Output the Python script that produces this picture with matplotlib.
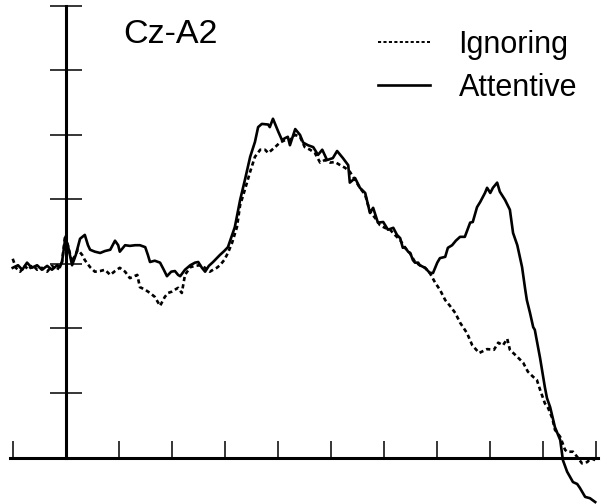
import numpy as np
import matplotlib.pyplot as plt

# time (ms) and amplitude (arbitrary units, 1 per y tick)
t_attentive = [-100, -90, -82, -73, -64, -54, -45, -35, -26, -16, -11, -7, -1, 4, 12, 19, 27, 36, 42, 46,
               55, 65, 74, 84, 93, 99, 102, 112, 121, 131, 140, 150, 155, 159, 168, 178, 185, 191, 199, 206,
               212, 216, 225, 235, 244, 250, 257, 263, 270, 278, 285, 291, 299, 306, 314, 319, 329, 338, 348, 357,
               363, 370, 382, 385, 391, 401, 408, 414, 419, 423, 433, 442, 448, 457, 467, 476, 484, 493, 504, 512,
               523, 533, 536, 546, 555, 565, 574, 580, 589, 599, 608, 618, 625, 631, 636, 640, 646, 650, 655, 659,
               665, 668, 678, 687, 693, 701, 706, 716, 721, 729, 736, 744, 753, 763, 768, 776, 782, 791, 795, 801,
               806, 814, 819, 829, 838, 844, 852, 861, 867, 870, 876, 882, 885, 895, 904, 908, 914, 923, 933, 938,
               946, 957, 965, 970, 980, 989, 999]
v_attentive = [-0.06, -0.02, -0.09, 0.02, -0.06, -0.02, -0.09, -0.03, -0.09, -0.02, -0.05, 0.03, 0.39, 0.29, -0.02, 0.14, 0.39, 0.45, 0.29, 0.22,
               0.19, 0.17, 0.20, 0.22, 0.36, 0.29, 0.19, 0.29, 0.28, 0.29, 0.29, 0.26, 0.14, 0.03, 0.05, 0.02, -0.09, -0.19, -0.12, -0.11,
               -0.17, -0.19, -0.09, -0.02, 0.02, 0.03, -0.06, -0.12, -0.03, 0.03, 0.09, 0.14, 0.20, 0.26, 0.45, 0.57, 0.99, 1.30, 1.66, 1.89,
               2.12, 2.17, 2.16, 2.12, 2.25, 2.05, 1.92, 1.95, 1.97, 1.84, 2.09, 2.00, 1.88, 1.84, 1.81, 1.69, 1.77, 1.61, 1.64, 1.75,
               1.64, 1.53, 1.26, 1.33, 1.18, 1.10, 0.79, 0.87, 0.64, 0.65, 0.53, 0.56, 0.45, 0.40, 0.25, 0.26, 0.19, 0.17, 0.06, 0.02,
               0.02, -0.02, -0.06, -0.14, -0.14, 0.02, 0.09, 0.11, 0.25, 0.29, 0.36, 0.42, 0.42, 0.64, 0.65, 0.88, 0.96, 1.10, 1.18, 1.10,
               1.18, 1.26, 1.12, 0.99, 0.84, 0.48, 0.29, -0.05, -0.40, -0.56, -0.76, -0.98, -1.02, -1.46, -1.91, -2.08, -2.22, -2.53, -2.73, -3.04,
               -3.22, -3.38, -3.41, -3.47, -3.61, -3.63, -3.69]

t_ignoring = [-100, -94, -86, -77, -71, -62, -54, -45, -35, -26, -16, -7, -1, 4, 12, 18, 23, 31, 36, 46,
              55, 65, 74, 84, 93, 102, 112, 121, 135, 140, 150, 159, 168, 178, 187, 193, 200, 212, 219, 225,
              235, 244, 253, 263, 272, 278, 285, 291, 299, 306, 314, 323, 329, 338, 348, 357, 367, 376, 382, 385,
              395, 404, 414, 423, 433, 442, 451, 461, 470, 480, 489, 499, 508, 518, 527, 536, 546, 555, 565, 574,
              584, 593, 602, 612, 621, 631, 640, 650, 659, 668, 678, 687, 697, 706, 716, 725, 735, 744, 757, 767,
              780, 795, 808, 816, 825, 833, 838, 852, 863, 872, 882, 889, 895, 904, 910, 918, 923, 933, 942, 946,
              957, 965, 974, 984, 991, 999]
v_ignoring = [0.08, -0.06, -0.12, -0.03, -0.09, -0.02, -0.09, -0.06, -0.12, -0.03, -0.09, 0.03, 0.45, 0.29, 0.03, 0.14, 0.22, 0.14, 0.06, -0.05,
              -0.12, -0.11, -0.09, -0.17, -0.11, -0.06, -0.12, -0.22, -0.17, -0.36, -0.40, -0.45, -0.51, -0.65, -0.51, -0.45, -0.43, -0.37, -0.45, -0.17,
              -0.05, -0.03, -0.02, -0.06, -0.12, -0.09, -0.06, -0.02, 0.06, 0.17, 0.33, 0.57, 0.91, 1.15, 1.43, 1.66, 1.77, 1.77, 1.72, 1.74,
              1.81, 1.88, 1.92, 1.92, 2.00, 1.97, 1.81, 1.77, 1.72, 1.57, 1.61, 1.57, 1.58, 1.53, 1.49, 1.43, 1.30, 1.18, 1.07, 0.81,
              0.71, 0.60, 0.56, 0.53, 0.45, 0.37, 0.25, 0.16, 0.03, -0.02, -0.06, -0.14, -0.29, -0.40, -0.56, -0.65, -0.76, -0.91, -1.07, -1.26,
              -1.38, -1.32, -1.33, -1.22, -1.26, -1.16, -1.33, -1.44, -1.53, -1.67, -1.75, -1.80, -1.95, -2.16, -2.23, -2.39, -2.57, -2.68, -2.88, -2.91,
              -2.91, -2.99, -3.09, -3.07, -3.01, -3.04]

x_ticks = np.arange(-100, 1001, 100)
y_ticks = np.arange(-2, 5, 1)

plt.rcParams['font.family'] = 'Liberation Sans'

fig = plt.figure(figsize=(6.09, 5.04), dpi=100)
ax = fig.add_axes([0, 0, 1, 1])

ax.plot(t_ignoring, v_ignoring, color='black', lw=1.9, linestyle=(0, (1.6, 1.2)), label='Ignoring')
ax.plot(t_attentive, v_attentive, color='black', lw=1.9, label='Attentive')

ax.set_xlim(-124, 1025)
ax.set_ylim(-3.72, 4.09)

ax.spines['top'].set_visible(False)
ax.spines['right'].set_visible(False)
ax.spines['left'].set_position(('data', 0))
ax.spines['bottom'].set_position(('data', -3))
ax.spines['left'].set_bounds(-3, 4)
ax.spines['bottom'].set_bounds(-105, 1004)
ax.spines['left'].set_linewidth(2.2)
ax.spines['bottom'].set_linewidth(2.2)

ax.set_xticks(x_ticks)
ax.set_yticks(y_ticks)
ax.tick_params(axis='x', direction='in', length=12, width=1.1, labelbottom=False)
ax.tick_params(axis='y', direction='inout', length=23, width=1.1, labelleft=False)

ax.text(0.202, 0.915, 'Cz-A2', transform=ax.transAxes, fontsize=24.5, va='baseline', ha='left')

leg = ax.legend(loc='upper left', bbox_to_anchor=(0.62, 0.941), frameon=False, fontsize=22,
                handlelength=1.7, handletextpad=0.95, labelspacing=0.42, borderpad=0, borderaxespad=0)
leg.get_lines()[0].set_linewidth(1.4)

fig.savefig('out.png', dpi=100)
